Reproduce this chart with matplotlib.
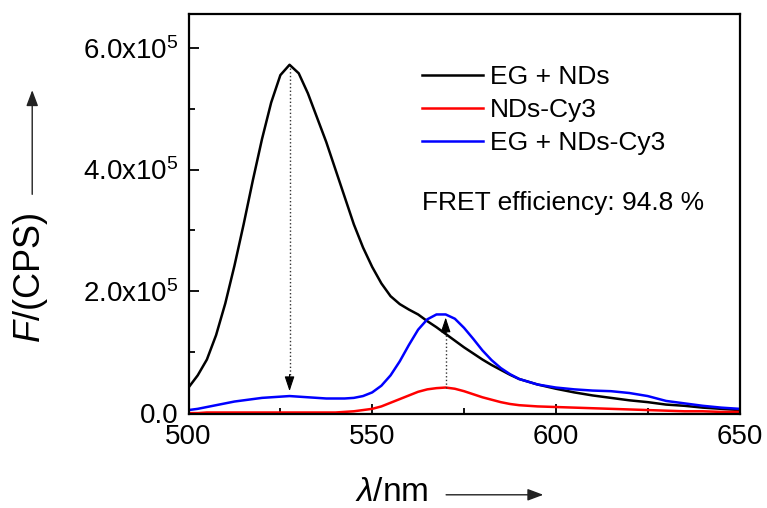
import numpy as np
import matplotlib
matplotlib.use("Agg")
import matplotlib.pyplot as plt
from matplotlib.ticker import MultipleLocator, FixedLocator, FixedFormatter
from matplotlib.patches import FancyArrowPatch

plt.rcParams['font.family'] = ['Liberation Sans', 'DejaVu Sans']
plt.rcParams['mathtext.fontset'] = 'custom'
plt.rcParams['mathtext.rm'] = 'Liberation Sans'
plt.rcParams['mathtext.it'] = 'Liberation Sans:italic'

# wavelength (nm)
wl = [500, 502.5, 505, 507.5, 510, 512.5, 515, 517.5, 520, 522.5, 525, 527.5,
      530, 532.5, 535, 537.5, 540, 542.5, 545, 547.5, 550, 552.5, 555, 557.5,
      560, 562.5, 565, 567.5, 570, 572.5, 575, 577.5, 580, 582.5, 585, 587.5,
      590, 595, 600, 605, 610, 615, 620, 625, 630, 635, 640, 645, 650]

# intensities in units of 1e5 CPS
eg_nds = [0.42, 0.62, 0.88, 1.28, 1.80, 2.42, 3.10, 3.82, 4.50, 5.10, 5.55, 5.72,
          5.58, 5.25, 4.85, 4.45, 4.00, 3.55, 3.10, 2.72, 2.40, 2.13, 1.92, 1.79,
          1.70, 1.62, 1.51, 1.41, 1.30, 1.19, 1.08, 0.98, 0.88, 0.79, 0.71, 0.63,
          0.56, 0.47, 0.40, 0.34, 0.29, 0.25, 0.21, 0.18, 0.14, 0.12, 0.09, 0.07, 0.05]

nds_cy3 = [0.00, 0.00, 0.01, 0.01, 0.01, 0.01, 0.01, 0.01, 0.01, 0.01, 0.01, 0.01,
           0.01, 0.01, 0.01, 0.01, 0.01, 0.02, 0.03, 0.05, 0.07, 0.11, 0.17, 0.23,
           0.29, 0.35, 0.39, 0.41, 0.42, 0.40, 0.36, 0.31, 0.26, 0.22, 0.18, 0.15,
           0.13, 0.11, 0.10, 0.09, 0.08, 0.07, 0.06, 0.05, 0.04, 0.03, 0.03, 0.02, 0.02]

eg_nds_cy3 = [0.05, 0.07, 0.10, 0.13, 0.16, 0.19, 0.21, 0.23, 0.25, 0.26, 0.27, 0.28,
              0.27, 0.26, 0.25, 0.24, 0.24, 0.24, 0.25, 0.28, 0.34, 0.45, 0.62, 0.85,
              1.12, 1.37, 1.54, 1.62, 1.62, 1.55, 1.40, 1.22, 1.03, 0.87, 0.74, 0.64,
              0.56, 0.47, 0.42, 0.39, 0.37, 0.36, 0.33, 0.28, 0.20, 0.16, 0.12, 0.09, 0.07]

labels = ['EG + NDs', 'NDs-Cy3', 'EG + NDs-Cy3']
colors = ['black', '#ff0000', '#0000ff']
yticks = [0, 2e5, 4e5, 6e5]
yticklabels = ['0.0', r'2.0x10$^5$', r'4.0x10$^5$', r'6.0x10$^5$']
xticks = [500, 550, 600, 650]

scale = 1e5
wl_a = np.array(wl)
series = [np.array(s) * scale for s in (eg_nds, nds_cy3, eg_nds_cy3)]

fig = plt.figure(figsize=(7.67, 5.08), dpi=100)
ax = fig.add_axes([0.2458, 0.185, 0.7184, 0.787])

for s, lab, c in zip(series, labels, colors):
    ax.plot(wl_a, s, color=c, lw=1.8, label=lab)

ax.set_xlim(500, 650)
ax.set_ylim(-1500, 6.55e5)
ax.xaxis.set_major_locator(FixedLocator(xticks))
ax.xaxis.set_minor_locator(MultipleLocator(25))
ax.yaxis.set_major_locator(FixedLocator(yticks))
ax.yaxis.set_major_formatter(FixedFormatter(yticklabels))
ax.yaxis.set_minor_locator(MultipleLocator(1e5))
ax.tick_params(which='both', direction='in', top=False, right=False,
               labelsize=20, width=1.3)
ax.tick_params(which='major', length=7, pad=7)
ax.tick_params(which='minor', length=4)
for sp in ax.spines.values():
    sp.set_linewidth(1.6)

head = '-|>,head_length=0.9,head_width=0.3'

# arrow 1: black peak down to blue curve
i1 = int(np.argmax(series[0]))
x1 = wl_a[i1]
ytop1 = series[0][i1] - 0.05e5
ybot1 = series[2][i1] + 0.08e5
ax.plot([x1, x1], [ytop1, ybot1 + 0.2e5], ls=':', color='#333333', lw=1.0)
ax.annotate('', xy=(x1, ybot1), xytext=(0, 12), textcoords='offset points',
            arrowprops=dict(arrowstyle=head, color='black', lw=0.8,
                            mutation_scale=10, shrinkA=0, shrinkB=0))

# arrow 2: red peak up towards blue peak
i2 = int(np.argmax(series[1]))
x2 = wl_a[i2]
ybot2 = series[1][i2]
ytop2 = series[2][i2] - 0.05e5
ax.plot([x2, x2], [ybot2, ytop2 - 0.2e5], ls=':', color='#333333', lw=1.0)
ax.annotate('', xy=(x2, ytop2), xytext=(0, -12), textcoords='offset points',
            arrowprops=dict(arrowstyle=head, color='black', lw=0.8,
                            mutation_scale=10, shrinkA=0, shrinkB=0))

ax.legend(loc='upper left', bbox_to_anchor=(0.424, 0.872), frameon=False,
          fontsize=19, handlelength=2.3, handletextpad=0.27,
          labelspacing=0.33, borderaxespad=0, borderpad=0)

ax.text(0.424, 0.5275, 'FRET efficiency: 94.8 %', transform=ax.transAxes,
        fontsize=19, ha='left', va='center')

# y label with arrow
fig.text(0.040, 0.453, r'$\it{F}$/(CPS)', rotation=90, fontsize=26,
         ha='center', va='center')
fig.add_artist(FancyArrowPatch(
    (0.042, 0.612), (0.042, 0.828), transform=fig.transFigure,
    arrowstyle='-|>,head_length=0.8,head_width=0.3', mutation_scale=12,
    color='#222222', lw=1.0))

# x label with arrow
fig.text(0.511, 0.030, r'$\it{\lambda}$/nm', fontsize=24, ha='center', va='center')
fig.add_artist(FancyArrowPatch(
    (0.578, 0.026), (0.712, 0.026), transform=fig.transFigure,
    arrowstyle='-|>,head_length=0.8,head_width=0.3', mutation_scale=12,
    color='#222222', lw=1.0))

fig.savefig('out.png', dpi=100)
